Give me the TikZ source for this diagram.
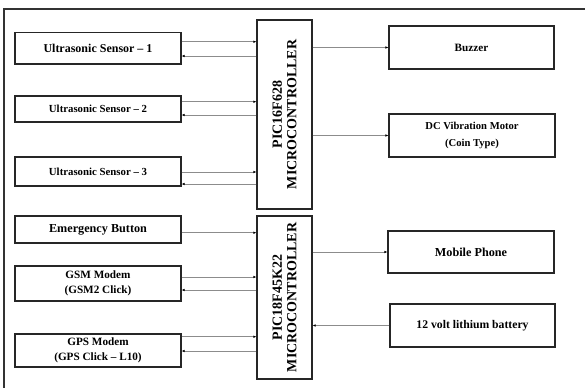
\documentclass[tikz,border=0pt]{standalone}
\usepackage{fontspec}
\setmainfont{Liberation Serif}
\usetikzlibrary{arrows.meta}
\newcommand{\fs}[1]{\fontsize{#1}{#1}\selectfont}
\begin{document}
\begin{tikzpicture}[x=1pt,y=-1pt,
  box/.style={draw=black!85, line width=1.1pt, inner sep=0pt, align=center, font=\bfseries},
  mcutext/.style={rotate=90, align=center, font=\bfseries\fontsize{14}{14.5}\selectfont},
  link/.style={draw=black!45, line width=0.6pt, -{Latex[length=3pt,width=2.5pt,black]}}]
\useasboundingbox (0,0) rectangle (585,388);
\draw[line width=1.1pt, black!80] (585,9) -- (4,9) -- (4,388);
% left boxes
\node[box, minimum width=166pt, minimum height=31.5pt] (us1) at (98,48.25) {\fs{12}Ultrasonic Sensor – 1};
\node[box, minimum width=166pt, minimum height=26pt] (us2) at (98,109) {\fs{10.8}Ultrasonic Sensor – 2};
\node[box, minimum width=166pt, minimum height=29pt] (us3) at (98,171.5) {\fs{10.8}Ultrasonic Sensor – 3};
\node[box, minimum width=166pt, minimum height=27pt] (emb) at (98,229.5) {\fs{12.2}Emergency Button};
\node[box, minimum width=166pt, minimum height=35pt, font=\bfseries\fontsize{11.2}{15}\selectfont] (gsm) at (98,283.5) {GSM Modem\\(GSM2 Click)};
\node[box, minimum width=166pt, minimum height=33pt, font=\bfseries\fontsize{11.2}{15}\selectfont] (gps) at (98,350.5) {GPS Modem\\(GPS Click – L10)};
% microcontrollers
\node[box, minimum width=55pt, minimum height=189pt] (mcu1) at (284.5,114.5) {};
\node[mcutext] (mcu1t) at (mcu1.center) {PIC16F628\\MICROCONTROLLER};
\node[box, minimum width=55pt, minimum height=163pt] (mcu2) at (284.5,297.5) {};
\node[mcutext] (mcu2t) at (mcu2.center) {PIC18F45K22\\MICROCONTROLLER};
% right boxes
\node[box, minimum width=165pt, minimum height=43pt] (buz) at (471.5,47.5) {\fs{11.2}Buzzer};
\node[box, minimum width=166pt, minimum height=43pt, font=\bfseries\fontsize{10.6}{16.5}\selectfont] (dcm) at (472,135.5) {DC Vibration Motor\\(Coin Type)};
\node[box, minimum width=166pt, minimum height=42pt] (mob) at (471,252) {\fs{12.2}Mobile Phone};
\node[box, minimum width=165pt, minimum height=43pt] (bat) at (472.5,325.5) {\fs{11.7}12 volt lithium battery};
% connectors left
\draw[link] (us1.east |- 0,41.7) -- (mcu1.west |- 0,41.7);
\draw[link] (mcu1.west |- 0,56) -- (us1.east |- 0,56);
\draw[link] (us2.east |- 0,101.7) -- (mcu1.west |- 0,101.7);
\draw[link] (mcu1.west |- 0,115) -- (us2.east |- 0,115);
\draw[link] (us3.east |- 0,172) -- (mcu1.west |- 0,172);
\draw[link] (mcu1.west |- 0,184) -- (us3.east |- 0,184);
\draw[link] (emb.east |- 0,232.7) -- (mcu2.west |- 0,232.7);
\draw[link] (gsm.east |- 0,277) -- (mcu2.west |- 0,277);
\draw[link] (mcu2.west |- 0,290) -- (gsm.east |- 0,290);
\draw[link] (gps.east |- 0,336.7) -- (mcu2.west |- 0,336.7);
\draw[link] (mcu2.west |- 0,351) -- (gps.east |- 0,351);
% connectors right
\draw[link] (mcu1.east |- buz.west) -- (buz.west);
\draw[link] (mcu1.east |- dcm.west) -- (dcm.west);
\draw[link] (mcu2.east |- mob.west) -- (mob.west);
\draw[link] (bat.west) -- (mcu2.east |- bat.west);
\end{tikzpicture}
\end{document}
